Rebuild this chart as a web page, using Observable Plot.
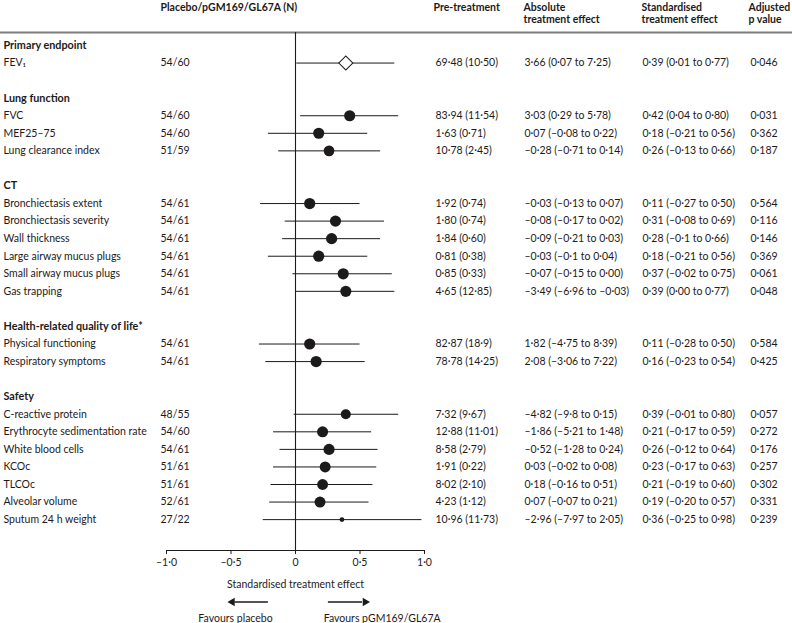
<!DOCTYPE html>
<html><head><meta charset="utf-8">
<script src="https://cdn.jsdelivr.net/npm/d3@7"></script>
<script src="https://cdn.jsdelivr.net/npm/@observablehq/plot@0.6"></script>
<style>
body{margin:0;background:#fff;}
#chart svg{display:block;font-family:Lato,"Open Sans",sans-serif;}
</style>
</head><body><div id="chart"></div>
<script>
// ---------- data ----------
const groups = ["Primary endpoint", "Lung function", "CT", "Health-related quality of life*", "Safety"];
const groupSizes = [1, 3, 6, 2, 7];
const outcomes = ["FEV₁", "FVC", "MEF25–75", "Lung clearance index",
  "Bronchiectasis extent", "Bronchiectasis severity", "Wall thickness", "Large airway mucus plugs", "Small airway mucus plugs", "Gas trapping",
  "Physical functioning", "Respiratory symptoms",
  "C-reactive protein", "Erythrocyte sedimentation rate", "White blood cells", "KCOc", "TLCOc", "Alveolar volume", "Sputum 24 h weight"];
const nPlacebo = [54, 54, 54, 51, 54, 54, 54, 54, 54, 54, 54, 54, 48, 54, 54, 51, 51, 52, 27];
const nActive  = [60, 60, 60, 59, 61, 61, 61, 61, 61, 61, 61, 61, 55, 60, 61, 61, 61, 61, 22];
const preTreatment = ["69·48 (10·50)", "83·94 (11·54)", "1·63 (0·71)", "10·78 (2·45)",
  "1·92 (0·74)", "1·80 (0·74)", "1·84 (0·60)", "0·81 (0·38)", "0·85 (0·33)", "4·65 (12·85)",
  "82·87 (18·9)", "78·78 (14·25)",
  "7·32 (9·67)", "12·88 (11·01)", "8·58 (2·79)", "1·91 (0·22)", "8·02 (2·10)", "4·23 (1·12)", "10·96 (11·73)"];
const absoluteEffect = ["3·66 (0·07 to 7·25)", "3·03 (0·29 to 5·78)", "0·07 (–0·08 to 0·22)", "–0·28 (–0·71 to 0·14)",
  "–0·03 (–0·13 to 0·07)", "–0·08 (–0·17 to 0·02)", "–0·09 (–0·21 to 0·03)", "–0·03 (–0·1 to 0·04)", "–0·07 (–0·15 to 0·00)", "–3·49 (–6·96 to –0·03)",
  "1·82 (–4·75 to 8·39)", "2·08 (–3·06 to 7·22)",
  "–4·82 (–9·8 to 0·15)", "–1·86 (–5·21 to 1·48)", "–0·52 (–1·28 to 0·24)", "0·03 (–0·02 to 0·08)", "0·18 (–0·16 to 0·51)", "0·07 (–0·07 to 0·21)", "–2·96 (–7·97 to 2·05)"];
const stdEffect = [0.39, 0.42, 0.18, 0.26, 0.11, 0.31, 0.28, 0.18, 0.37, 0.39, 0.11, 0.16, 0.39, 0.21, 0.26, 0.23, 0.21, 0.19, 0.36];
const stdLower  = [0.01, 0.04, -0.21, -0.13, -0.27, -0.08, -0.10, -0.21, -0.02, 0.00, -0.28, -0.23, -0.01, -0.17, -0.12, -0.17, -0.19, -0.20, -0.25];
const stdUpper  = [0.77, 0.80, 0.56, 0.66, 0.50, 0.69, 0.66, 0.56, 0.75, 0.77, 0.50, 0.54, 0.80, 0.59, 0.64, 0.63, 0.60, 0.57, 0.98];
const stdEffectText = ["0·39 (0·01 to 0·77)", "0·42 (0·04 to 0·80)", "0·18 (–0·21 to 0·56)", "0·26 (–0·13 to 0·66)",
  "0·11 (–0·27 to 0·50)", "0·31 (–0·08 to 0·69)", "0·28 (–0·1 to 0·66)", "0·18 (–0·21 to 0·56)", "0·37 (–0·02 to 0·75)", "0·39 (0·00 to 0·77)",
  "0·11 (–0·28 to 0·50)", "0·16 (–0·23 to 0·54)",
  "0·39 (–0·01 to 0·80)", "0·21 (–0·17 to 0·59)", "0·26 (–0·12 to 0·64)", "0·23 (–0·17 to 0·63)", "0·21 (–0·19 to 0·60)", "0·19 (–0·20 to 0·57)", "0·36 (–0·25 to 0·98)"];
const pValues = ["0·046", "0·031", "0·362", "0·187", "0·564", "0·116", "0·146", "0·369", "0·061", "0·048", "0·584", "0·425", "0·057", "0·272", "0·176", "0·257", "0·302", "0·331", "0·239"];
const headers = ["Placebo/pGM169/GL67A (N)", "Pre-treatment", "Absolute\ntreatment effect", "Standardised\ntreatment effect", "Adjusted\np value"];
const axisTicks = [-1, -0.5, 0, 0.5, 1];
const axisTickLabels = ["–1·0", "–0·5", "0", "0·5", "1·0"];
const axisTitle = "Standardised treatment effect";
const favourLabels = ["Favours placebo", "Favours pGM169/GL67A"];

// ---------- build rows ----------
const rows = [];
let r = 0, k = 0;
groups.forEach((g, gi) => {
  rows.push({row: r++, kind: "group", label: g});
  for (let j = 0; j < groupSizes[gi]; j++, k++) {
    rows.push({row: r++, kind: gi === 0 ? "primary" : "outcome", label: outcomes[k],
      n: `${nPlacebo[k]}/${nActive[k]}`, nTotal: nPlacebo[k] + nActive[k],
      pre: preTreatment[k], abs: absoluteEffect[k], stdText: stdEffectText[k], p: pValues[k],
      est: stdEffect[k], lo: stdLower[k], hi: stdUpper[k]});
  }
  r++;
});
const groupRows = rows.filter(d => d.kind === "group");
const outRows = rows.filter(d => d.kind !== "group");
const nRows = r - 1; // trailing blank row dropped

// ---------- layout ----------
const W = 792, H = 623;
const ROW0 = 45, STEP = 17.56, AXIS_Y = 550;
const rowAt = px => (px - ROW0) / STEP;
const axisRow = rowAt(AXIS_Y), topRow = rowAt(32), arrowRow = rowAt(601.5);
const ink = "#1d1a1a", fs = 10.5;
const col = {label: 3, n: 160, pre: 435, abs: 524, std: 642, p: 750};
const headerX = [160, 433, 523, 641, 748];

const headerMarks = headers.map((h, i) =>
  Plot.text([h], {frameAnchor: "top-left", dx: headerX[i], dy: 2, textAnchor: "start", lineAnchor: "top",
    lineHeight: 1.14, fontWeight: "bold", fill: ink, fontSize: fs}));

const plot = Plot.plot({
  width: W, height: H,
  marginLeft: 0, marginRight: 0, marginTop: 0, marginBottom: H - AXIS_Y,
  x: {domain: [-1, 1], range: [166, 424]},
  y: {axis: null, domain: [0, nRows - 1], range: [ROW0, ROW0 + (nRows - 1) * STEP]},
  r: {type: "linear", domain: [40, 115], range: [2, 5.6]},
  style: {fontFamily: "Lato, 'Open Sans', sans-serif", fontSize: fs + "px", color: ink},
  marks: [
    // top rule
    Plot.ruleY([topRow], {stroke: "#7d7d7d", strokeWidth: 2}),
    // zero line
    Plot.ruleX([0], {y1: topRow, y2: axisRow, stroke: ink, strokeWidth: 1.1}),
    // axis line + ticks
    Plot.ruleY([axisRow], {x1: -1, x2: 1, stroke: ink, strokeWidth: 1.1}),
    Plot.axisX({ticks: axisTicks, tickFormat: d => axisTickLabels[axisTicks.indexOf(d)], tickSize: 4, tickPadding: 4, stroke: ink, fill: ink, fontSize: fs, label: null}),
    Plot.text([axisTitle], {x: 0, frameAnchor: "bottom", dy: 34, lineAnchor: "middle", fill: ink, fontSize: fs}),
    // favours arrows
    Plot.ruleY([arrowRow], {x1: -0.21, x2: -0.47, stroke: ink, strokeWidth: 1.6}),
    Plot.ruleY([arrowRow], {x1: 0.255, x2: 0.52, stroke: ink, strokeWidth: 1.6}),
    Plot.dot([{x: -0.49, rot: -90}, {x: 0.54, rot: 90}], {x: "x", y: arrowRow, symbol: "triangle2", r: 4, rotate: "rot", fill: ink, stroke: null}),
    Plot.text(favourLabels, {x: [-0.465, 0.672], frameAnchor: "bottom", dy: 68, lineAnchor: "middle", fill: ink, fontSize: fs}),
    // CI lines
    Plot.ruleY(outRows, {y: "row", x1: "lo", x2: "hi", stroke: ink, strokeWidth: 1}),
    // estimates
    Plot.dot(outRows.filter(d => d.kind === "outcome"), {x: "est", y: "row", r: "nTotal", fill: ink, stroke: null}),
    Plot.dot(outRows.filter(d => d.kind === "primary"), {x: "est", y: "row", symbol: "square", r: 5.6, rotate: 45, fill: "white", stroke: ink, strokeWidth: 1}),
    // column headers
    ...headerMarks,
    // group labels
    Plot.text(groupRows, {y: "row", text: "label", frameAnchor: "left", dx: col.label, textAnchor: "start", fontWeight: "bold", fill: ink, fontSize: fs + 0.3}),
    // outcome columns
    Plot.text(outRows, {y: "row", text: "label", frameAnchor: "left", dx: col.label, textAnchor: "start", fill: ink}),
    Plot.text(outRows, {y: "row", text: "n", frameAnchor: "left", dx: col.n, textAnchor: "start", fill: ink}),
    Plot.text(outRows, {y: "row", text: "pre", frameAnchor: "left", dx: col.pre, textAnchor: "start", fill: ink}),
    Plot.text(outRows, {y: "row", text: "abs", frameAnchor: "left", dx: col.abs, textAnchor: "start", fill: ink}),
    Plot.text(outRows, {y: "row", text: "stdText", frameAnchor: "left", dx: col.std, textAnchor: "start", fill: ink}),
    Plot.text(outRows, {y: "row", text: "p", frameAnchor: "left", dx: col.p, textAnchor: "start", fill: ink})
  ]
});
document.getElementById("chart").appendChild(plot);
</script>
</body></html>
